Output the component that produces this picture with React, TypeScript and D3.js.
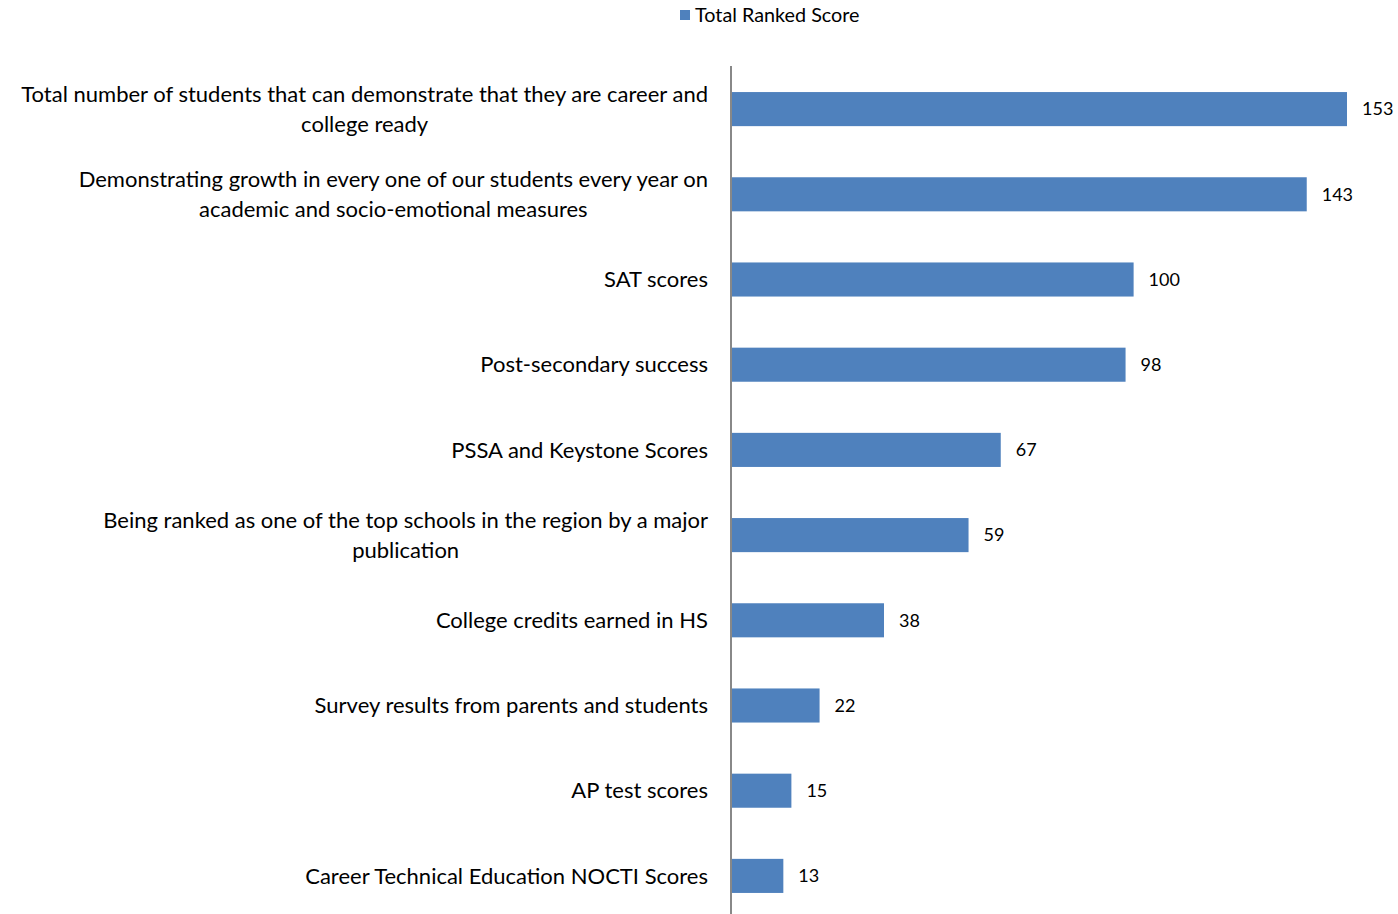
import React, { useEffect, useRef } from "react";
import * as d3 from "d3";

const categories: string[] = [
  "Total number of students that can demonstrate that they are career and college ready",
  "Demonstrating growth in every one of our students every year on academic and socio-emotional measures",
  "SAT scores",
  "Post-secondary success",
  "PSSA and Keystone Scores",
  "Being ranked as one of the top schools in the region by a major publication",
  "College credits earned in HS",
  "Survey results from parents and students",
  "AP test scores",
  "Career Technical Education NOCTI Scores",
];
const values: number[] = [153, 143, 100, 98, 67, 59, 38, 22, 15, 13];
const seriesName = "Total Ranked Score";

const W = 1398;
const H = 914;
const FONT = "Lato, 'Open Sans', sans-serif";

export default function App() {
  const ref = useRef<SVGSVGElement>(null);
  useEffect(() => {
    const svg = d3.select(ref.current!);
    svg.selectAll("*").remove();
    const axisX = 731;
    const top = 66.5;
    const bandStep = 85.2;
    const x = d3.scaleLinear().domain([0, 153]).range([axisX, 1347]);
    const y = d3
      .scaleBand<string>()
      .domain(categories)
      .range([top, top + bandStep * categories.length])
      .paddingInner(0.6)
      .paddingOuter(0.3);

    // legend
    const lg = svg.append("g");
    lg.append("rect").attr("x", 680).attr("y", 10).attr("width", 10).attr("height", 10).attr("fill", "#4F81BD");
    lg.append("text")
      .attr("x", 695)
      .attr("y", 21.5)
      .attr("font-family", FONT)
      .attr("font-size", 19.8)
      .attr("fill", "#000")
      .text(seriesName);

    // bars
    svg
      .append("g")
      .selectAll("rect")
      .data(values)
      .join("rect")
      .attr("x", x(0))
      .attr("y", (_, i) => y(categories[i])!)
      .attr("width", (d) => x(d) - x(0))
      .attr("height", y.bandwidth())
      .attr("fill", "#4F81BD");

    // value labels
    svg
      .append("g")
      .selectAll("text")
      .data(values)
      .join("text")
      .attr("x", (d) => x(d) + 15)
      .attr("y", (_, i) => y(categories[i])! + y.bandwidth() / 2)
      .attr("dy", "0.35em")
      .attr("font-family", FONT)
      .attr("font-size", 18)
      .attr("fill", "#000")
      .text((d) => String(d));

    // axis line
    svg
      .append("line")
      .attr("x1", axisX)
      .attr("x2", axisX)
      .attr("y1", 66)
      .attr("y2", H)
      .attr("stroke", "#888")
      .attr("stroke-width", 2);

    // category labels with wrapping
    const maxW = 712;
    const lineH = 29.5;
    const lg2 = svg.append("g");
    categories.forEach((c) => {
      const t = lg2
        .append("text")
        .attr("text-anchor", "middle")
        .attr("font-family", FONT)
        .attr("font-size", 22)
        .attr("fill", "#000");
      const words = c.split(" ");
      const lines: string[] = [];
      let cur = "";
      const probe = t.append("tspan");
      words.forEach((w) => {
        const test = cur ? cur + " " + w : w;
        probe.text(test);
        if ((probe.node() as SVGTextContentElement).getComputedTextLength() > maxW && cur) {
          lines.push(cur);
          cur = w;
        } else cur = test;
      });
      lines.push(cur);
      probe.remove();
      const cy = y(c)! + y.bandwidth() / 2;
      const widths: number[] = [];
      lines.forEach((l) => {
        const p = t.append("tspan").text(l);
        widths.push((p.node() as SVGTextContentElement).getComputedTextLength());
        p.remove();
      });
      const widest = d3.max(widths)!;
      const cx = 708 - widest / 2;
      if (lines.length === 1) {
        t.attr("text-anchor", "end");
        t.append("tspan").attr("x", 708).attr("y", cy).attr("dy", "0.35em").text(lines[0]);
      } else {
        lines.forEach((l, i) => {
          t.append("tspan")
            .attr("x", cx)
            .attr("y", cy + (i - (lines.length - 1) / 2) * lineH)
            .attr("dy", "0.35em")
            .text(l);
        });
      }
    });
  }, []);
  return (
    <svg
      ref={ref}
      width={W}
      height={H}
      style={{ position: "absolute", left: 0, top: 0, background: "#fff" }}
    />
  );
}
